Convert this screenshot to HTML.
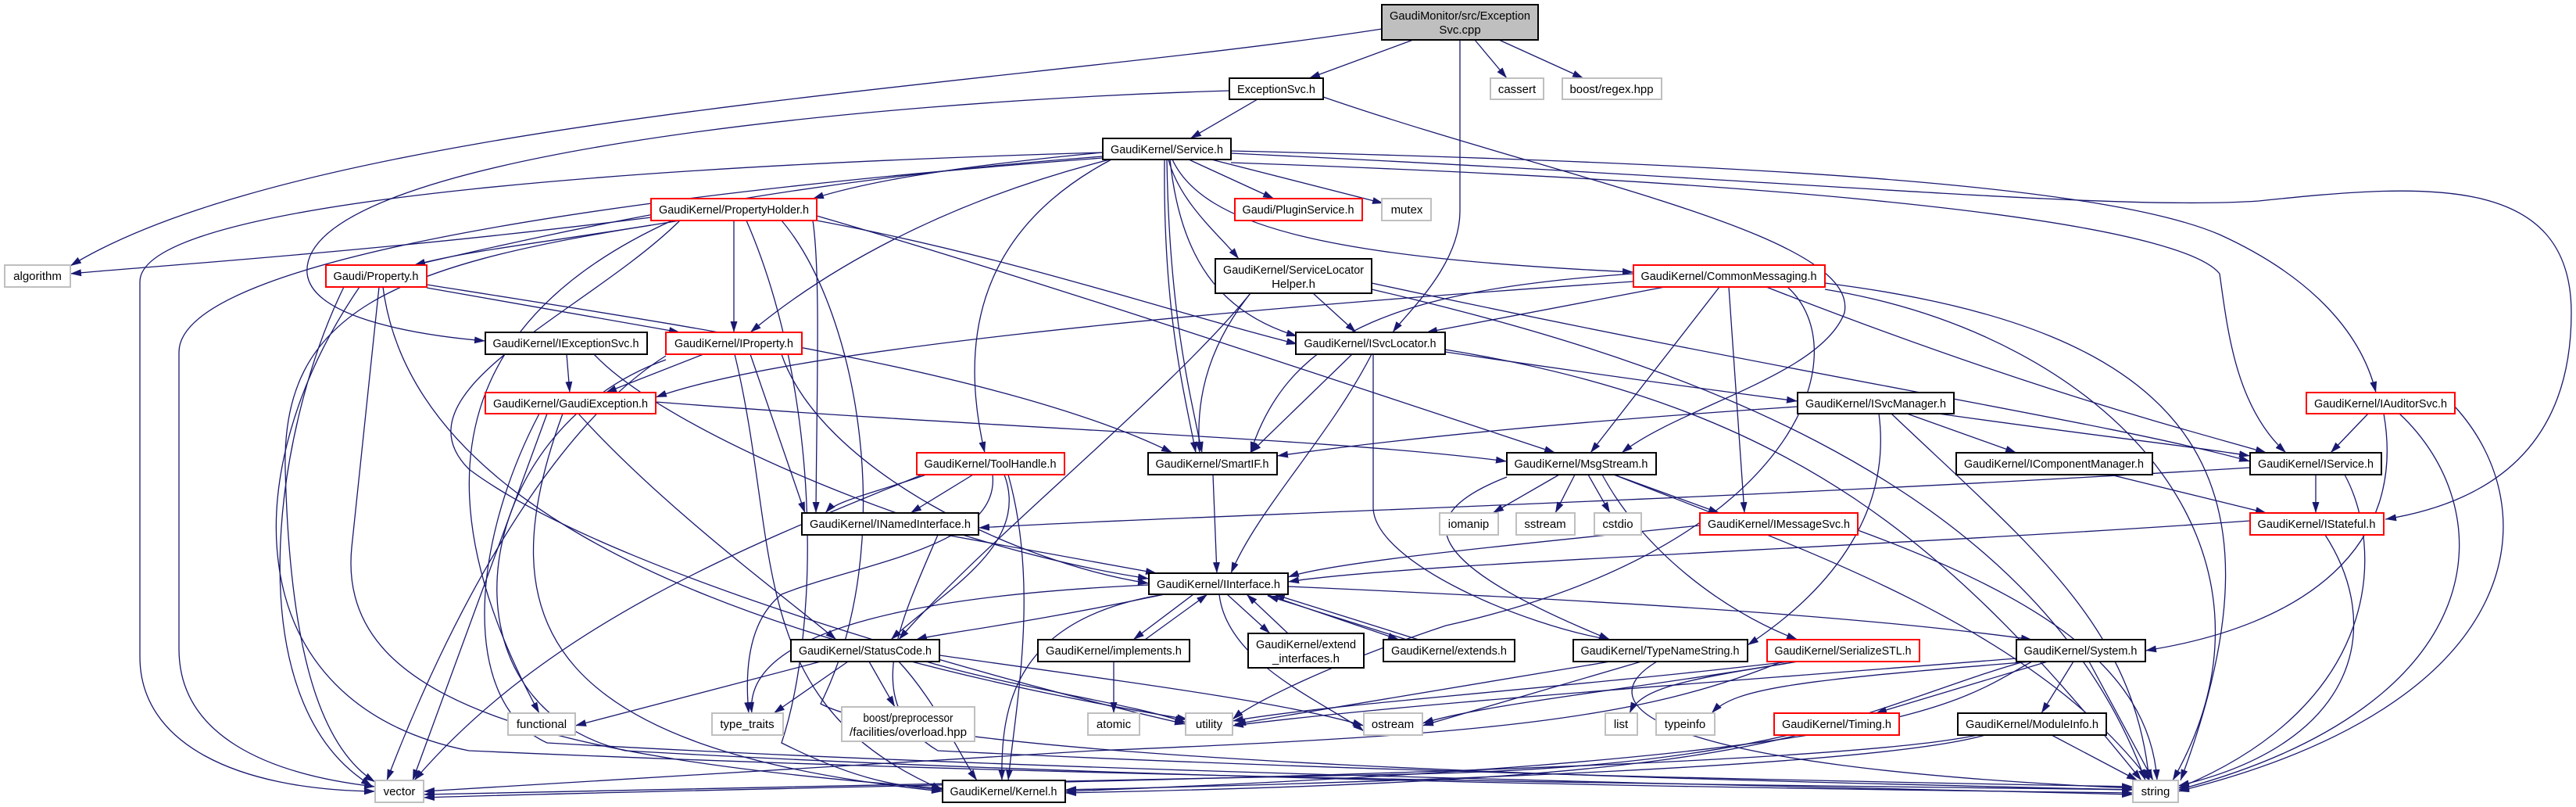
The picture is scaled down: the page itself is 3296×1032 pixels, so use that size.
<!DOCTYPE html>
<html><head><meta charset="utf-8"><style>
html,body{margin:0;padding:0;background:#fff;width:3296px;height:1032px;overflow:hidden}
svg{display:block}
.e{fill:none;stroke:#191970;stroke-width:1.3}
text{font-family:"Liberation Sans",sans-serif;font-size:15px;fill:#000}
</style></head><body>
<svg width="3296" height="1032" viewBox="0 0 3296 1032" xmlns="http://www.w3.org/2000/svg">
<defs><marker id="a" viewBox="0 0 14 10" refX="14" refY="5" markerWidth="14" markerHeight="10" markerUnits="userSpaceOnUse" orient="auto"><path d="M0,0.5 L14,5 L0,9.5z" fill="#191970"/></marker></defs>
<g class="e" marker-end="url(#a)">
<path d="M1768,37 C1300,110 400,150 90,340"/>
<path d="M1808,51 L1675,100"/>
<path d="M1887,51 L1928,100"/>
<path d="M1918,51 L2026,100"/>
<path d="M1868,51 L1868,270 C1868,340 1800,400 1782,425"/>
<path d="M1609,127 L1523,177"/>
<path d="M1573,116 C1100,130 380,200 393,350 C400,410 550,430 621,436"/>
<path d="M1693,124 C2000,230 2380,300 2360,400 C2330,480 2150,520 2075,579"/>
<path d="M1411,195 C1200,215 1100,235 1040,254"/>
<path d="M1521,204 L1630,254"/>
<path d="M1550,204 L1770,260"/>
<path d="M1500,204 C1540,290 1700,330 2090,348"/>
<path d="M1495,204 C1510,260 1560,300 1585,331"/>
<path d="M1411,200 C1000,230 700,300 530,339"/>
<path d="M1420,204 C1200,260 1050,350 960,425"/>
<path d="M1497,204 C1510,330 1560,400 1660,430"/>
<path d="M1490,204 C1488,400 1515,500 1530,579"/>
<path d="M1493,204 C1496,400 1522,500 1538,579"/>
<path d="M1422,204 C1240,300 1230,450 1260,579"/>
<path d="M1575,193 C2300,210 2700,240 2840,300 C2950,350 3020,420 3040,502"/>
<path d="M1575,208 C2500,240 2800,300 2840,350 C2850,420 2860,520 2925,579"/>
<path d="M1575,196 C2300,230 2700,270 2890,257 C3100,235 3290,220 3290,400 C3290,560 3200,640 3052,664"/>
<path d="M1411,195 C900,210 180,250 179,360 L179,840 C179,950 300,1010 480,1012"/>
<path d="M1411,202 C900,240 230,320 229,450 L229,830 C229,940 340,990 480,1006"/>
<path d="M833,278 C500,320 200,340 90,350"/>
<path d="M870,282 C700,310 600,320 530,339"/>
<path d="M939,282 L939,425"/>
<path d="M1045,282 C1300,330 1500,400 1660,440"/>
<path d="M1040,282 C1050,350 1045,500 1044,656"/>
<path d="M1045,276 C1300,350 1600,450 1990,579"/>
<path d="M860,282 C600,400 520,600 690,912"/>
<path d="M833,288 C500,340 360,400 365,600 C370,800 400,950 480,1000"/>
<path d="M955,282 C1050,500 1050,800 1000,950 C1100,1000 1150,1005 1206,1010"/>
<path d="M870,282 C750,400 500,500 600,600 C800,750 1400,900 1517,926"/>
<path d="M1000,282 C1100,400 1150,700 1050,900 C1200,980 2300,1000 2729,1010"/>
<path d="M546,368 L870,425"/>
<path d="M546,364 C900,420 1300,480 1500,579"/>
<path d="M490,367 C520,600 800,800 1520,920"/>
<path d="M485,367 L450,700 C430,900 700,970 1206,1008"/>
<path d="M460,367 C300,600 300,900 600,960 C1500,1000 2400,1005 2729,1010"/>
<path d="M440,367 C350,550 300,900 476,1005"/>
<path d="M725,453 L729,502"/>
<path d="M760,453 C850,550 1200,700 1470,740"/>
<path d="M900,453 L775,502"/>
<path d="M960,453 L1030,656"/>
<path d="M1000,453 C1050,600 1300,720 1470,746"/>
<path d="M940,453 C1000,700 950,900 1206,1010"/>
<path d="M852,460 C600,550 550,900 800,960 C1500,1000 2400,1010 2729,1014"/>
<path d="M852,455 C700,550 570,800 495,998"/>
<path d="M839,514 C1300,550 1700,560 1928,590"/>
<path d="M740,529 C850,650 1000,760 1070,818"/>
<path d="M720,529 C620,800 700,960 1206,1012"/>
<path d="M700,529 L528,998"/>
<path d="M690,529 C600,700 590,900 700,950 C1400,990 2300,1005 2729,1016"/>
<path d="M1680,375 L1735,425"/>
<path d="M1600,375 C1540,450 1530,520 1535,579"/>
<path d="M1600,375 C1500,500 1250,700 1150,818"/>
<path d="M1755,362 C2300,480 2700,540 2879,590"/>
<path d="M1755,370 C2100,450 2600,600 2745,998"/>
<path d="M2130,367 L1825,425"/>
<path d="M2090,350 C1800,370 1650,420 1600,579"/>
<path d="M2200,367 L2035,579"/>
<path d="M2212,367 L2232,656"/>
<path d="M2260,367 C2600,500 2800,550 2900,579"/>
<path d="M2090,360 C1500,400 1000,450 839,508"/>
<path d="M2287,367 C2380,450 2300,700 1850,800 C1700,850 1600,900 1577,920"/>
<path d="M2335,362 C2800,420 2940,600 2790,998"/>
<path d="M2335,370 C2700,430 2950,700 2780,998"/>
<path d="M1730,453 L1600,579"/>
<path d="M1755,453 C1700,560 1610,650 1575,733"/>
<path d="M1849,450 C2050,480 2200,500 2300,513"/>
<path d="M1757,453 L1757,650 C1760,720 1950,800 2060,818"/>
<path d="M1849,447 C2300,520 2500,700 2740,998"/>
<path d="M2440,529 L2580,579"/>
<path d="M2480,529 C2700,560 2800,570 2879,583"/>
<path d="M2300,520 C2000,540 1800,560 1634,583"/>
<path d="M2404,529 C2420,650 2350,750 2236,825"/>
<path d="M2420,529 C2600,700 2730,800 2750,998"/>
<path d="M3030,529 L2982,579"/>
<path d="M3050,529 C3080,700 2950,800 2745,832"/>
<path d="M3070,529 C3200,650 3200,900 2787,1010"/>
<path d="M3141,520 C3260,650 3240,900 2787,1012"/>
<path d="M1245,607 L1165,656"/>
<path d="M1185,607 C1120,630 1070,640 1056,656"/>
<path d="M1285,607 C1320,700 1200,760 1140,818"/>
<path d="M1270,607 C1280,700 1100,720 1000,760 C950,800 955,880 958,912"/>
<path d="M1290,607 C1330,750 1300,900 1290,998"/>
<path d="M1180,607 C950,700 700,800 530,998"/>
<path d="M1552,607 L1557,733"/>
<path d="M1995,607 L1910,656"/>
<path d="M2015,607 L1990,656"/>
<path d="M2032,607 L2060,656"/>
<path d="M2065,607 L2200,656"/>
<path d="M2050,607 C2100,700 2200,780 2300,818"/>
<path d="M2065,607 C2300,700 2600,800 2750,998"/>
<path d="M1928,610 C1800,660 1820,720 2060,818"/>
<path d="M2700,607 L2900,656"/>
<path d="M2963,607 L2963,656"/>
<path d="M2879,598 C2200,640 1500,660 1252,675"/>
<path d="M3000,607 C3050,700 3050,900 2787,1008"/>
<path d="M2879,666 C2400,700 1800,720 1648,744"/>
<path d="M2975,684 C3050,800 3020,950 2787,1005"/>
<path d="M1210,684 L1480,733"/>
<path d="M1200,684 C1150,800 1100,900 1200,960 C1800,990 2400,1000 2729,1006"/>
<path d="M2175,672 C1900,700 1700,720 1648,738"/>
<path d="M2377,678 C2600,760 2750,850 2760,998"/>
<path d="M1490,760 C1300,800 1200,810 1172,818"/>
<path d="M1527,760 L1450,818"/>
<path d="M1570,760 L1625,810"/>
<path d="M1620,760 L1790,818"/>
<path d="M1648,750 C2100,770 2400,790 2600,818"/>
<path d="M1490,760 C1300,790 1280,900 1282,998"/>
<path d="M1560,760 C1570,850 1700,900 1745,935"/>
<path d="M1470,748 C1200,760 950,800 962,912"/>
<path d="M1465,818 L1545,760"/>
<path d="M1425,846 L1425,912"/>
<path d="M1648,810 L1595,760"/>
<path d="M1815,818 L1630,760"/>
<path d="M1800,818 L1622,762"/>
<path d="M1050,846 L736,928"/>
<path d="M1085,846 L990,912"/>
<path d="M1112,846 L1145,904"/>
<path d="M1185,846 C1300,880 1450,900 1517,924"/>
<path d="M1202,838 C1500,880 1650,900 1745,928"/>
<path d="M1150,846 C1200,900 1230,970 1250,998"/>
<path d="M2100,846 L1820,928"/>
<path d="M2120,846 C2030,900 2100,980 2729,1008"/>
<path d="M2060,846 L1580,926"/>
<path d="M2300,846 C2100,880 1900,900 1820,925"/>
<path d="M2300,846 C2150,870 2100,880 2085,912"/>
<path d="M2290,846 C2000,880 1700,900 1577,922"/>
<path d="M2280,846 C2100,920 1900,940 1400,960 C900,990 700,1005 542,1012"/>
<path d="M2620,846 L2400,912"/>
<path d="M2653,846 L2612,912"/>
<path d="M2673,846 L2755,998"/>
<path d="M2600,846 C2300,870 2220,880 2190,912"/>
<path d="M2580,842 C2100,880 1800,900 1577,928"/>
<path d="M2590,846 C2400,900 2300,980 1800,990 C1200,1005 700,1010 542,1016"/>
<path d="M2600,846 C2500,900 2450,970 1363,1012"/>
<path d="M2300,940 C2100,990 1800,1005 1363,1014"/>
<path d="M2625,940 L2735,998"/>
<path d="M2540,940 C2400,980 1800,1000 1363,1010"/>
<path d="M2530,940 C2300,990 1000,1005 542,1020"/>
</g>
<g stroke-width="2">
<rect x="1768" y="6" width="200" height="45" fill="#bfbfbf" stroke="#000"/>
<g fill="#fff" stroke="#000">
<rect x="1573" y="100" width="120" height="27"/>
<rect x="1411" y="177" width="164" height="27"/>
<rect x="1555" y="331" width="200" height="44"/>
<rect x="621" y="425" width="207" height="28"/>
<rect x="1658" y="425" width="191" height="28"/>
<rect x="2300" y="502" width="200" height="27"/>
<rect x="1469" y="579" width="165" height="28"/>
<rect x="1928" y="579" width="191" height="28"/>
<rect x="2503" y="579" width="251" height="28"/>
<rect x="2879" y="579" width="168" height="28"/>
<rect x="1026" y="656" width="226" height="28"/>
<rect x="1470" y="733" width="178" height="27"/>
<rect x="1012" y="818" width="190" height="28"/>
<rect x="1328" y="818" width="194" height="28"/>
<rect x="1597" y="810" width="148" height="44"/>
<rect x="1770" y="818" width="168" height="28"/>
<rect x="2013" y="818" width="223" height="28"/>
<rect x="2580" y="818" width="165" height="28"/>
<rect x="2505" y="912" width="190" height="28"/>
<rect x="1206" y="998" width="157" height="28"/>
</g>
<g fill="#fff" stroke="#ff0000">
<rect x="833" y="254" width="212" height="28"/>
<rect x="1580" y="254" width="163" height="28"/>
<rect x="2090" y="339" width="245" height="28"/>
<rect x="417" y="339" width="129" height="28"/>
<rect x="852" y="425" width="174" height="28"/>
<rect x="621" y="502" width="218" height="27"/>
<rect x="2951" y="502" width="190" height="27"/>
<rect x="1173" y="579" width="189" height="28"/>
<rect x="2175" y="656" width="202" height="28"/>
<rect x="2879" y="656" width="171" height="28"/>
<rect x="2261" y="818" width="195" height="28"/>
<rect x="2270" y="912" width="160" height="28"/>
</g>
<g fill="#fff" stroke="#bfbfbf">
<rect x="1907" y="100" width="68" height="27"/>
<rect x="1999" y="100" width="127" height="27"/>
<rect x="1768" y="254" width="63" height="28"/>
<rect x="6" y="339" width="84" height="28"/>
<rect x="1842" y="656" width="75" height="28"/>
<rect x="1940" y="656" width="75" height="28"/>
<rect x="2040" y="656" width="60" height="28"/>
<rect x="650" y="912" width="86" height="28"/>
<rect x="911" y="912" width="91" height="28"/>
<rect x="1077" y="904" width="170" height="44"/>
<rect x="1392" y="912" width="66" height="28"/>
<rect x="1517" y="912" width="60" height="28"/>
<rect x="1745" y="912" width="75" height="28"/>
<rect x="2054" y="912" width="41" height="28"/>
<rect x="2119" y="912" width="75" height="28"/>
<rect x="480" y="998" width="62" height="28"/>
<rect x="2729" y="998" width="58" height="28"/>
</g>
</g>
<g text-anchor="middle">
<text x="1868" y="25" textLength="180" lengthAdjust="spacingAndGlyphs">GaudiMonitor/src/Exception</text>
<text x="1868" y="43">Svc.cpp</text>
<text x="1633" y="119" textLength="100" lengthAdjust="spacingAndGlyphs">ExceptionSvc.h</text>
<text x="1941" y="119">cassert</text>
<text x="2062" y="119" textLength="107" lengthAdjust="spacingAndGlyphs">boost/regex.hpp</text>
<text x="1493" y="196" textLength="144" lengthAdjust="spacingAndGlyphs">GaudiKernel/Service.h</text>
<text x="939" y="273" textLength="192" lengthAdjust="spacingAndGlyphs">GaudiKernel/PropertyHolder.h</text>
<text x="1661" y="273" textLength="143" lengthAdjust="spacingAndGlyphs">Gaudi/PluginService.h</text>
<text x="1800" y="273">mutex</text>
<text x="1655" y="350" textLength="180" lengthAdjust="spacingAndGlyphs">GaudiKernel/ServiceLocator</text>
<text x="1655" y="368">Helper.h</text>
<text x="2212" y="358" textLength="225" lengthAdjust="spacingAndGlyphs">GaudiKernel/CommonMessaging.h</text>
<text x="48" y="358">algorithm</text>
<text x="481" y="358" textLength="109" lengthAdjust="spacingAndGlyphs">Gaudi/Property.h</text>
<text x="724" y="444" textLength="187" lengthAdjust="spacingAndGlyphs">GaudiKernel/IExceptionSvc.h</text>
<text x="939" y="444" textLength="152" lengthAdjust="spacingAndGlyphs">GaudiKernel/IProperty.h</text>
<text x="1753" y="444" textLength="169" lengthAdjust="spacingAndGlyphs">GaudiKernel/ISvcLocator.h</text>
<text x="730" y="521" textLength="198" lengthAdjust="spacingAndGlyphs">GaudiKernel/GaudiException.h</text>
<text x="2400" y="521" textLength="180" lengthAdjust="spacingAndGlyphs">GaudiKernel/ISvcManager.h</text>
<text x="3046" y="521" textLength="170" lengthAdjust="spacingAndGlyphs">GaudiKernel/IAuditorSvc.h</text>
<text x="1267" y="598" textLength="169" lengthAdjust="spacingAndGlyphs">GaudiKernel/ToolHandle.h</text>
<text x="1551" y="598" textLength="145" lengthAdjust="spacingAndGlyphs">GaudiKernel/SmartIF.h</text>
<text x="2023" y="598" textLength="171" lengthAdjust="spacingAndGlyphs">GaudiKernel/MsgStream.h</text>
<text x="2628" y="598" textLength="230" lengthAdjust="spacingAndGlyphs">GaudiKernel/IComponentManager.h</text>
<text x="2963" y="598" textLength="148" lengthAdjust="spacingAndGlyphs">GaudiKernel/IService.h</text>
<text x="1139" y="675" textLength="206" lengthAdjust="spacingAndGlyphs">GaudiKernel/INamedInterface.h</text>
<text x="1879" y="675">iomanip</text>
<text x="1977" y="675">sstream</text>
<text x="2070" y="675">cstdio</text>
<text x="2276" y="675" textLength="182" lengthAdjust="spacingAndGlyphs">GaudiKernel/IMessageSvc.h</text>
<text x="2964" y="675" textLength="151" lengthAdjust="spacingAndGlyphs">GaudiKernel/IStateful.h</text>
<text x="1559" y="752" textLength="158" lengthAdjust="spacingAndGlyphs">GaudiKernel/IInterface.h</text>
<text x="1107" y="837" textLength="170" lengthAdjust="spacingAndGlyphs">GaudiKernel/StatusCode.h</text>
<text x="1425" y="837" textLength="174" lengthAdjust="spacingAndGlyphs">GaudiKernel/implements.h</text>
<text x="1671" y="829" textLength="128" lengthAdjust="spacingAndGlyphs">GaudiKernel/extend</text>
<text x="1671" y="847">_interfaces.h</text>
<text x="1854" y="837" textLength="148" lengthAdjust="spacingAndGlyphs">GaudiKernel/extends.h</text>
<text x="2124" y="837" textLength="203" lengthAdjust="spacingAndGlyphs">GaudiKernel/TypeNameString.h</text>
<text x="2358" y="837" textLength="175" lengthAdjust="spacingAndGlyphs">GaudiKernel/SerializeSTL.h</text>
<text x="2662" y="837" textLength="145" lengthAdjust="spacingAndGlyphs">GaudiKernel/System.h</text>
<text x="693" y="931">functional</text>
<text x="956" y="931">type_traits</text>
<text x="1162" y="923" textLength="115" lengthAdjust="spacingAndGlyphs">boost/preprocessor</text>
<text x="1162" y="941" textLength="150" lengthAdjust="spacingAndGlyphs">/facilities/overload.hpp</text>
<text x="1425" y="931">atomic</text>
<text x="1547" y="931">utility</text>
<text x="1782" y="931">ostream</text>
<text x="2074" y="931">list</text>
<text x="2156" y="931">typeinfo</text>
<text x="2350" y="931" textLength="140" lengthAdjust="spacingAndGlyphs">GaudiKernel/Timing.h</text>
<text x="2600" y="931" textLength="170" lengthAdjust="spacingAndGlyphs">GaudiKernel/ModuleInfo.h</text>
<text x="511" y="1017">vector</text>
<text x="1284" y="1017" textLength="137" lengthAdjust="spacingAndGlyphs">GaudiKernel/Kernel.h</text>
<text x="2758" y="1017">string</text>
</g>
</svg>
</body></html>
